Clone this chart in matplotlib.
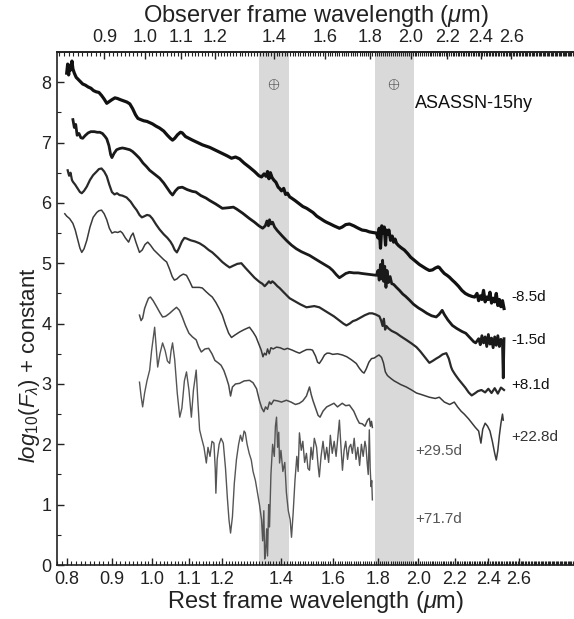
import numpy as np
import matplotlib
matplotlib.use("Agg")
import matplotlib.pyplot as plt
from matplotlib.ticker import FixedLocator, NullFormatter, MultipleLocator

plt.rcParams['font.family'] = ['Liberation Sans', 'DejaVu Sans']
plt.rcParams['mathtext.fontset'] = 'custom'
plt.rcParams['mathtext.rm'] = 'Liberation Sans'
plt.rcParams['mathtext.it'] = 'Liberation Sans:italic'

# ---- data -------------------------------------------------------------
redshift = 0.02

wl_m85 = [0.800, 0.802, 0.804, 0.806, 0.808, 0.811, 0.813, 0.816, 0.820, 0.825, 0.830, 0.834,
          0.840, 0.846, 0.852, 0.858, 0.864, 0.870, 0.876, 0.882, 0.888, 0.894, 0.900, 0.907,
          0.913, 0.920, 0.928, 0.936, 0.943, 0.950, 0.957, 0.963, 0.970, 0.978, 0.986, 0.993,
          1.000, 1.010, 1.019, 1.030, 1.040, 1.048, 1.054, 1.060, 1.068, 1.076, 1.081, 1.090,
          1.100, 1.110, 1.125, 1.140, 1.161, 1.180, 1.200, 1.215, 1.229, 1.242, 1.255, 1.270,
          1.288, 1.305, 1.320, 1.329, 1.338, 1.345, 1.350, 1.355, 1.360, 1.366, 1.372, 1.380,
          1.388, 1.393, 1.400, 1.408, 1.415, 1.422, 1.430, 1.437, 1.450, 1.465, 1.480, 1.495,
          1.506, 1.520, 1.535, 1.550, 1.565, 1.574, 1.590, 1.605, 1.617, 1.628, 1.640, 1.655,
          1.671, 1.690, 1.710, 1.727, 1.745, 1.760, 1.775, 1.793, 1.800, 1.806, 1.812, 1.818,
          1.824, 1.830, 1.836, 1.840, 1.846, 1.852, 1.860, 1.868, 1.875, 1.882, 1.889, 1.900,
          1.915, 1.928, 1.945, 1.960, 1.975, 1.990, 2.005, 2.020, 2.040, 2.058, 2.075, 2.090,
          2.105, 2.112, 2.125, 2.140, 2.155, 2.168, 2.185, 2.200, 2.220, 2.240, 2.260, 2.280,
          2.300, 2.316, 2.330, 2.340, 2.350, 2.360, 2.370, 2.380, 2.390, 2.400, 2.410, 2.420,
          2.430, 2.440, 2.450, 2.460, 2.470, 2.480, 2.490, 2.500]
fl_m85 = [8.15, 8.30, 8.12, 8.28, 8.20, 8.35, 8.22, 8.15, 8.08, 8.04, 8.00, 7.97,
          7.95, 7.92, 7.90, 7.86, 7.84, 7.83, 7.78, 7.72, 7.65, 7.68, 7.71, 7.74,
          7.73, 7.71, 7.69, 7.67, 7.64, 7.56, 7.46, 7.40, 7.38, 7.36, 7.35, 7.33,
          7.31, 7.27, 7.24, 7.19, 7.12, 7.07, 7.04, 7.07, 7.13, 7.17, 7.16, 7.10,
          7.07, 7.04, 7.00, 6.96, 6.92, 6.87, 6.82, 6.78, 6.74, 6.76, 6.73, 6.66,
          6.59, 6.52, 6.45, 6.43, 6.48, 6.44, 6.52, 6.40, 6.50, 6.42, 6.38, 6.34,
          6.26, 6.24, 6.20, 6.24, 6.14, 6.16, 6.10, 6.08, 6.04, 5.99, 5.94, 5.91,
          5.88, 5.84, 5.78, 5.74, 5.70, 5.68, 5.65, 5.62, 5.60, 5.58, 5.60, 5.64,
          5.65, 5.62, 5.58, 5.55, 5.54, 5.52, 5.51, 5.50, 5.42, 5.58, 5.25, 5.62,
          5.50, 5.60, 5.30, 5.55, 5.48, 5.55, 5.38, 5.45, 5.35, 5.40, 5.33, 5.29,
          5.25, 5.22, 5.16, 5.10, 5.06, 5.02, 4.98, 4.95, 4.91, 4.88, 4.89, 4.92,
          4.94, 4.93, 4.88, 4.83, 4.80, 4.77, 4.72, 4.68, 4.62, 4.55, 4.50, 4.47,
          4.45, 4.44, 4.50, 4.38, 4.46, 4.40, 4.55, 4.36, 4.44, 4.40, 4.52, 4.34,
          4.42, 4.36, 4.50, 4.30, 4.40, 4.28, 4.38, 4.25]

wl_m15 = [0.813, 0.816, 0.819, 0.822, 0.826, 0.830, 0.834, 0.840, 0.846, 0.852, 0.860, 0.866,
          0.872, 0.878, 0.884, 0.888, 0.893, 0.897, 0.900, 0.905, 0.911, 0.918, 0.925, 0.932,
          0.943, 0.950, 0.958, 0.967, 0.976, 0.985, 0.993, 1.005, 1.019, 1.030, 1.040, 1.048,
          1.054, 1.062, 1.070, 1.081, 1.095, 1.110, 1.120, 1.135, 1.150, 1.161, 1.180, 1.200,
          1.220, 1.235, 1.245, 1.265, 1.288, 1.305, 1.320, 1.333, 1.342, 1.348, 1.353, 1.357,
          1.362, 1.368, 1.375, 1.385, 1.393, 1.405, 1.420, 1.437, 1.455, 1.475, 1.490, 1.506,
          1.525, 1.545, 1.565, 1.586, 1.600, 1.615, 1.628, 1.640, 1.655, 1.671, 1.690, 1.710,
          1.727, 1.750, 1.775, 1.793, 1.800, 1.806, 1.812, 1.818, 1.822, 1.827, 1.832, 1.838,
          1.843, 1.850, 1.858, 1.866, 1.875, 1.889, 1.904, 1.920, 1.935, 1.954, 1.975, 2.000,
          2.021, 2.045, 2.070, 2.095, 2.110, 2.128, 2.140, 2.160, 2.185, 2.210, 2.240, 2.263,
          2.290, 2.310, 2.322, 2.340, 2.350, 2.360, 2.370, 2.380, 2.390, 2.400, 2.410, 2.420,
          2.430, 2.440, 2.450, 2.460, 2.470, 2.480, 2.490, 2.495, 2.500]
fl_m15 = [7.38, 7.25, 7.30, 7.12, 7.15, 7.08, 7.07, 7.12, 7.16, 7.18, 7.18, 7.17,
          7.17, 7.15, 7.10, 7.06, 6.95, 6.80, 6.75, 6.82, 6.88, 6.90, 6.91, 6.90,
          6.88, 6.85, 6.80, 6.74, 6.66, 6.60, 6.54, 6.48, 6.41, 6.33, 6.24, 6.17,
          6.13, 6.20, 6.25, 6.26, 6.22, 6.19, 6.18, 6.12, 6.08, 6.04, 5.98, 5.91,
          5.92, 5.93, 5.90, 5.83, 5.74, 5.68, 5.62, 5.58, 5.62, 5.70, 5.62, 5.72,
          5.65, 5.68, 5.60, 5.54, 5.50, 5.44, 5.37, 5.30, 5.24, 5.19, 5.16, 5.13,
          5.08, 5.03, 4.98, 4.93, 4.88, 4.81, 4.76, 4.79, 4.83, 4.85, 4.84, 4.84,
          4.83, 4.82, 4.81, 4.80, 4.88, 4.72, 4.98, 4.74, 5.05, 4.70, 4.95, 4.60,
          4.88, 4.68, 4.78, 4.66, 4.65, 4.60, 4.55, 4.49, 4.45, 4.39, 4.32, 4.26,
          4.22, 4.17, 4.13, 4.11, 4.15, 4.22, 4.15, 4.06, 3.97, 3.92, 3.87, 3.84,
          3.76, 3.70, 3.68, 3.75, 3.65, 3.80, 3.68, 3.78, 3.62, 3.82, 3.66, 3.76,
          3.60, 3.78, 3.64, 3.80, 3.62, 3.74, 3.66, 3.10, 3.75]

wl_p81 = [0.802, 0.805, 0.808, 0.811, 0.813, 0.818, 0.823, 0.828, 0.832, 0.837, 0.843, 0.850,
          0.857, 0.865, 0.870, 0.876, 0.882, 0.888, 0.894, 0.900, 0.906, 0.912, 0.918, 0.925,
          0.935, 0.945, 0.953, 0.960, 0.967, 0.973, 0.980, 0.986, 0.993, 1.000, 1.010, 1.019,
          1.030, 1.040, 1.048, 1.054, 1.060, 1.066, 1.072, 1.080, 1.087, 1.093, 1.105, 1.118,
          1.131, 1.145, 1.158, 1.169, 1.185, 1.200, 1.212, 1.223, 1.235, 1.248, 1.261, 1.275,
          1.290, 1.305, 1.322, 1.332, 1.340, 1.348, 1.355, 1.361, 1.367, 1.375, 1.385, 1.393,
          1.410, 1.430, 1.450, 1.470, 1.494, 1.510, 1.525, 1.545, 1.565, 1.586, 1.605, 1.625,
          1.645, 1.658, 1.672, 1.686, 1.701, 1.720, 1.740, 1.760, 1.774, 1.790, 1.807, 1.815,
          1.822, 1.828, 1.834, 1.840, 1.850, 1.865, 1.889, 1.910, 1.938, 1.965, 1.990, 2.010,
          2.035, 2.058, 2.075, 2.095, 2.112, 2.130, 2.151, 2.165, 2.178, 2.185, 2.200, 2.220,
          2.240, 2.260, 2.280, 2.298, 2.315, 2.335, 2.357, 2.380, 2.400, 2.420, 2.440, 2.460,
          2.480, 2.500]
fl_p81 = [6.54, 6.45, 6.50, 6.38, 6.35, 6.30, 6.24, 6.18, 6.16, 6.20, 6.27, 6.38,
          6.46, 6.52, 6.56, 6.57, 6.52, 6.44, 6.30, 6.18, 6.14, 6.16, 6.13, 6.12,
          6.09, 6.02, 5.94, 5.88, 5.80, 5.76, 5.78, 5.80, 5.79, 5.74, 5.64, 5.56,
          5.48, 5.42, 5.36, 5.30, 5.22, 5.18, 5.25, 5.36, 5.42, 5.41, 5.38, 5.36,
          5.33, 5.28, 5.22, 5.18, 5.10, 5.02, 4.97, 4.93, 4.96, 4.99, 5.00, 4.92,
          4.84, 4.76, 4.69, 4.66, 4.62, 4.66, 4.70, 4.67, 4.70, 4.67, 4.62, 4.59,
          4.51, 4.42, 4.37, 4.32, 4.27, 4.28, 4.29, 4.27, 4.22, 4.17, 4.12, 4.06,
          4.00, 3.97, 4.00, 4.04, 4.06, 4.10, 4.14, 4.17, 4.17, 4.15, 4.12, 4.05,
          3.96, 4.08, 3.90, 3.96, 3.92, 3.88, 3.84, 3.79, 3.73, 3.67, 3.61, 3.54,
          3.44, 3.35, 3.38, 3.42, 3.45, 3.49, 3.51, 3.42, 3.28, 3.23, 3.16, 3.08,
          3.01, 2.94, 2.86, 2.81, 2.84, 2.88, 2.90, 2.86, 2.92, 2.85, 2.93, 2.84,
          2.94, 2.90]

wl_p228 = [0.796, 0.800, 0.806, 0.813, 0.818, 0.823, 0.828, 0.832, 0.837, 0.843, 0.850, 0.857,
           0.865, 0.870, 0.876, 0.882, 0.888, 0.894, 0.900, 0.907, 0.914, 0.920, 0.925, 0.932,
           0.940, 0.946, 0.951, 0.958, 0.967, 0.974, 0.981, 0.988, 0.995, 1.004, 1.012, 1.020,
           1.030, 1.038, 1.046, 1.053, 1.059, 1.066, 1.075, 1.084, 1.093, 1.102, 1.110, 1.120,
           1.130, 1.139, 1.150, 1.160, 1.169, 1.180, 1.190, 1.200, 1.210, 1.220, 1.229, 1.240,
           1.255, 1.270, 1.288, 1.300, 1.310, 1.320, 1.328, 1.334, 1.339, 1.345, 1.350, 1.356,
           1.362, 1.370, 1.382, 1.395, 1.410, 1.422, 1.440, 1.455, 1.467, 1.480, 1.495, 1.510,
           1.518, 1.530, 1.538, 1.545, 1.555, 1.566, 1.576, 1.586, 1.600, 1.620, 1.641, 1.660,
           1.680, 1.701, 1.715, 1.728, 1.736, 1.746, 1.758, 1.770, 1.783, 1.795, 1.805, 1.817,
           1.826, 1.835, 1.845, 1.855, 1.866, 1.878, 1.889, 1.910, 1.938, 1.965, 1.990, 2.020,
           2.058, 2.090, 2.112, 2.140, 2.170, 2.196, 2.215, 2.235, 2.254, 2.280, 2.300, 2.320,
           2.340, 2.354, 2.365, 2.380, 2.395, 2.410, 2.425, 2.440, 2.450, 2.460, 2.470, 2.480,
           2.490, 2.495]
fl_p228 = [5.82, 5.78, 5.74, 5.66, 5.55, 5.40, 5.25, 5.18, 5.24, 5.38, 5.60, 5.76,
           5.84, 5.87, 5.88, 5.82, 5.72, 5.58, 5.50, 5.52, 5.51, 5.53, 5.50, 5.42,
           5.35, 5.45, 5.50, 5.35, 5.18, 5.22, 5.31, 5.35, 5.30, 5.22, 5.17, 5.12,
           5.06, 5.02, 4.90, 4.78, 4.72, 4.74, 4.79, 4.82, 4.80, 4.70, 4.60, 4.60,
           4.60, 4.59, 4.53, 4.48, 4.44, 4.35, 4.25, 4.14, 3.98, 3.84, 3.77, 3.81,
           3.86, 3.90, 3.94, 3.86, 3.78, 3.66, 3.56, 3.45, 3.51, 3.48, 3.58, 3.50,
           3.60, 3.58, 3.61, 3.60, 3.57, 3.59, 3.56, 3.53, 3.51, 3.54, 3.57, 3.57,
           3.56, 3.46, 3.36, 3.34, 3.40, 3.48, 3.51, 3.51, 3.49, 3.50, 3.48, 3.45,
           3.40, 3.34, 3.26, 3.20, 3.18, 3.25, 3.36, 3.42, 3.43, 3.46, 3.48, 3.44,
           3.35, 3.20, 3.14, 3.11, 3.08, 3.05, 3.03, 2.99, 2.95, 2.90, 2.85, 2.82,
           2.78, 2.76, 2.78, 2.70, 2.66, 2.70, 2.62, 2.55, 2.50, 2.42, 2.35, 2.28,
           2.22, 2.02, 2.25, 2.35, 2.30, 2.22, 2.05, 1.85, 1.74, 1.90, 2.15, 2.35,
           2.50, 2.40]

wl_p295 = [0.967, 0.971, 0.975, 0.980, 0.985, 0.990, 0.995, 1.002, 1.012, 1.020, 1.027, 1.035,
           1.046, 1.055, 1.065, 1.073, 1.081, 1.090, 1.100, 1.110, 1.121, 1.128, 1.136, 1.147,
           1.158, 1.168, 1.177, 1.187, 1.196, 1.205, 1.213, 1.220, 1.226, 1.232, 1.242, 1.255,
           1.270, 1.288, 1.300, 1.312, 1.322, 1.330, 1.337, 1.343, 1.350, 1.357, 1.363, 1.372,
           1.385, 1.400, 1.418, 1.435, 1.452, 1.467, 1.480, 1.494, 1.506, 1.513, 1.520, 1.530,
           1.540, 1.548, 1.560, 1.575, 1.590, 1.605, 1.620, 1.640, 1.655, 1.671, 1.690, 1.705,
           1.715, 1.728, 1.740, 1.752, 1.760, 1.765, 1.770, 1.774]
fl_p295 = [4.14, 4.05, 4.09, 4.25, 4.34, 4.42, 4.44, 4.38, 4.27, 4.18, 4.11, 4.12,
           4.17, 4.22, 4.27, 4.22, 4.11, 3.97, 3.84, 3.78, 3.73, 3.62, 3.53, 3.58,
           3.59, 3.50, 3.39, 3.35, 3.31, 3.22, 3.10, 2.98, 2.80, 2.95, 3.00, 3.01,
           3.05, 3.06, 3.02, 2.92, 2.72, 2.60, 2.54, 2.62, 2.58, 2.70, 2.66, 2.73,
           2.72, 2.70, 2.73, 2.70, 2.66, 2.68, 2.72, 2.80, 2.95, 2.82, 2.72, 2.60,
           2.48, 2.45, 2.55, 2.62, 2.65, 2.68, 2.62, 2.68, 2.64, 2.65, 2.55, 2.42,
           2.35, 2.34, 2.30, 2.40, 2.43, 2.30, 2.38, 2.28]

wl_p717 = [0.967, 0.971, 0.975, 0.980, 0.986, 0.993, 0.998, 1.003, 1.006, 1.010, 1.014, 1.020,
           1.027, 1.034, 1.040, 1.046, 1.050, 1.054, 1.060, 1.067, 1.074, 1.080, 1.087, 1.093,
           1.100, 1.107, 1.113, 1.121, 1.126, 1.131, 1.137, 1.144, 1.151, 1.156, 1.162, 1.168,
           1.174, 1.178, 1.180, 1.184, 1.190, 1.196, 1.203, 1.210, 1.216, 1.221, 1.226, 1.232,
           1.238, 1.245, 1.252, 1.258, 1.264, 1.270, 1.274, 1.280, 1.287, 1.294, 1.300, 1.308,
           1.315, 1.322, 1.329, 1.333, 1.337, 1.340, 1.343, 1.347, 1.350, 1.354, 1.357, 1.362,
           1.368, 1.374, 1.378, 1.382, 1.386, 1.390, 1.393, 1.398, 1.405, 1.412, 1.418, 1.425,
           1.432, 1.437, 1.443, 1.450, 1.457, 1.462, 1.467, 1.474, 1.480, 1.487, 1.494, 1.500,
           1.506, 1.512, 1.518, 1.525, 1.534, 1.540, 1.545, 1.552, 1.560, 1.568, 1.575, 1.583,
           1.590, 1.598, 1.606, 1.614, 1.621, 1.628, 1.634, 1.641, 1.648, 1.655, 1.663, 1.670,
           1.677, 1.684, 1.692, 1.700, 1.708, 1.716, 1.724, 1.732, 1.740, 1.745, 1.750, 1.755,
           1.760, 1.764, 1.768, 1.771, 1.774]
fl_p717 = [3.03, 2.80, 2.62, 2.85, 3.05, 3.23, 3.55, 3.80, 3.94, 3.60, 3.28, 3.50,
           3.68, 3.55, 3.38, 3.34, 3.55, 3.68, 3.40, 2.85, 2.45, 2.60, 3.05, 3.20,
           2.90, 2.45, 2.90, 3.23, 2.70, 2.24, 2.10, 1.95, 1.69, 1.95, 1.80, 2.05,
           2.02, 1.60, 1.19, 1.75, 2.00, 2.10, 2.02, 1.60, 1.10, 0.75, 0.53, 0.80,
           1.35, 1.75, 2.00, 2.15, 2.05, 2.22, 2.19, 2.00, 1.85, 1.74, 1.55, 1.40,
           1.20, 1.00, 0.75, 0.40, 0.90, 0.10, 0.20, 0.60, 0.15, 1.00, 0.63, 1.50,
           2.00, 1.80, 2.30, 2.45, 1.95, 2.20, 1.69, 1.90, 1.55, 1.70, 1.20, 0.90,
           0.75, 0.46, 0.85, 1.40, 1.80, 1.55, 2.19, 1.90, 2.05, 1.70, 1.85, 1.60,
           1.57, 1.95, 1.75, 2.10, 1.95, 1.65, 1.46, 1.80, 2.05, 1.75, 1.95, 1.70,
           2.15, 1.85, 2.05, 1.80, 2.10, 2.40, 2.00, 1.57, 1.90, 2.05, 1.75, 1.95,
           2.00, 1.85, 2.10, 1.75, 1.95, 1.65, 2.00, 1.80, 2.05, 1.95, 1.70, 1.50,
           2.24, 1.60, 1.30, 1.40, 1.08]

epochs = ['-8.5d', '-1.5d', '+8.1d', '+22.8d', '+29.5d', '+71.7d']
label_wl = [2.55, 2.55, 2.55, 2.55, 1.985, 1.985]
label_fl = [4.44, 3.72, 2.98, 2.12, 1.89, 0.76]

telluric_bands = [(1.322, 1.426), (1.784, 1.975)]

# ---- figure -----------------------------------------------------------
fig = plt.figure(figsize=(5.74, 6.19), dpi=100)
ax = fig.add_axes([0.0993, 0.0872, 0.9007, 0.8288])

for lo, hi in telluric_bands:
    ax.axvspan(lo, hi, color='#d9d9d9', lw=0, zorder=0)
    ax.text(np.sqrt(lo * hi), 7.95, r'$\oplus$', ha='center', va='center',
            fontsize=11, color='#222222')

series = [(wl_m85, fl_m85, '#111111', 2.3),
          (wl_m15, fl_m15, '#1a1a1a', 2.0),
          (wl_p81, fl_p81, '#2a2a2a', 1.6),
          (wl_p228, fl_p228, '#3a3a3a', 1.1),
          (wl_p295, fl_p295, '#4a4a4a', 1.1),
          (wl_p717, fl_p717, '#555555', 1.0)]
for wl, fl, c, lw in series:
    ax.plot(wl, fl, color=c, lw=lw, zorder=2, solid_joinstyle='round')

label_colors = ['#111111', '#111111', '#111111', '#333333', '#555555', '#555555']
for name, x, y, c in zip(epochs, label_wl, label_fl, label_colors):
    ax.text(x, y, name, ha='left', va='center', fontsize=11, color=c)

ax.text(1.98, 7.65, 'ASASSN-15hy', ha='left', va='center', fontsize=13, color='#111111')

ax.set_xscale('log')
ax.set_xlim(0.78, 3.0)
ax.set_ylim(0, 8.5)

bottom_ticks = [0.8, 0.9, 1.0, 1.1, 1.2, 1.4, 1.6, 1.8, 2.0, 2.2, 2.4, 2.6]
ax.xaxis.set_major_locator(FixedLocator(bottom_ticks))
ax.set_xticklabels([f'{t:.1f}' for t in bottom_ticks])
ax.xaxis.set_minor_locator(FixedLocator(np.arange(0.78, 3.0, 0.01)))
ax.xaxis.set_minor_formatter(NullFormatter())
ax.yaxis.set_major_locator(MultipleLocator(1))
ax.yaxis.set_minor_locator(MultipleLocator(0.5))

ax.tick_params(axis='both', which='major', direction='in', length=5, width=1,
               labelsize=13, colors='#222222', pad=4)
ax.tick_params(axis='both', which='minor', direction='in', length=3, width=0.8,
               colors='#222222')
for s in ['left', 'bottom', 'top']:
    ax.spines[s].set_color('#222222')
    ax.spines[s].set_linewidth(1.2)
ax.spines['right'].set_visible(False)

ax.set_xlabel(r'Rest frame wavelength ($\mu$m)', fontsize=17, color='#222222', labelpad=1)
ax.set_ylabel(r'$log_{10}(F_{\lambda})$ + constant', fontsize=16, color='#222222')
ax.yaxis.set_label_coords(-0.029, 0.39)

top = ax.secondary_xaxis('top', functions=(lambda x: x * (1 + redshift),
                                           lambda x: x / (1 + redshift)))
top_ticks = [0.9, 1.0, 1.1, 1.2, 1.4, 1.6, 1.8, 2.0, 2.2, 2.4, 2.6]
top.xaxis.set_major_locator(FixedLocator(top_ticks))
top.set_xticklabels([f'{t:.1f}' for t in top_ticks])
top.xaxis.set_minor_locator(FixedLocator(np.arange(0.80, 3.06, 0.01)))
top.xaxis.set_minor_formatter(NullFormatter())
top.tick_params(axis='x', which='major', direction='in', length=5, width=1,
                labelsize=13, colors='#222222', pad=4)
top.tick_params(axis='x', which='minor', direction='in', length=3, width=0.8,
                colors='#222222')
top.spines['top'].set_linewidth(1.2)
top.spines['top'].set_color('#222222')
top.set_xlabel(r'Observer frame wavelength ($\mu$m)', fontsize=17, color='#222222', labelpad=5)

fig.savefig('out.png', dpi=100)
